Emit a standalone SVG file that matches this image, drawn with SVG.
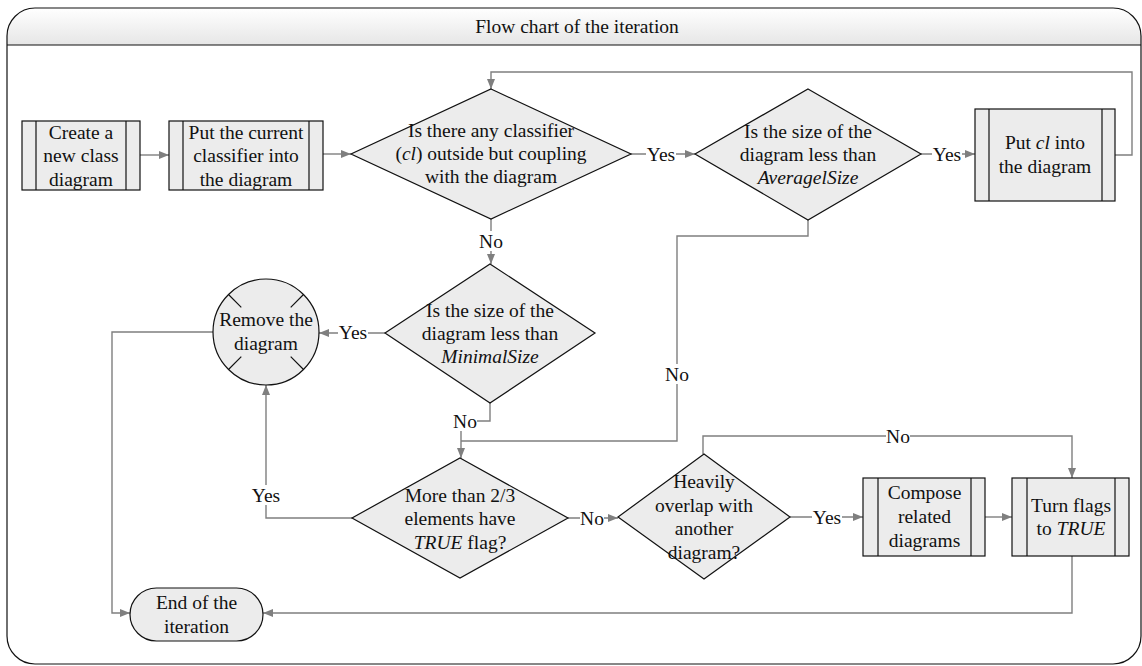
<svg xmlns="http://www.w3.org/2000/svg" width="1142" height="666" viewBox="0 0 1142 666">
<defs>
<linearGradient id="hdr" x1="0" y1="0" x2="0" y2="1">
<stop offset="0" stop-color="#ffffff"/>
<stop offset="1" stop-color="#e6e6e6"/>
</linearGradient>
<clipPath id="frameclip"><rect x="7" y="8" width="1134" height="656" rx="28" ry="28"/></clipPath>
<marker id="arr" markerUnits="userSpaceOnUse" markerWidth="10" markerHeight="8" refX="10" refY="4" orient="auto">
<path d="M0,0 L10,4 L0,8 z" fill="#7f7f7f"/>
</marker>
</defs>
<style>
text{font-family:"Liberation Serif","Times New Roman",serif;font-size:19.5px;fill:#111;text-anchor:middle}
.shape{fill:#ececec;stroke:#111;stroke-width:1.2}
.bar{stroke:#111;stroke-width:1.2}
.conn path{fill:none;stroke:#7f7f7f;stroke-width:1.4}
.arrow{marker-end:url(#arr)}
.lblbg{fill:#ffffff}
</style>
<rect x="0" y="0" width="1142" height="666" fill="#ffffff"/>
<g id="frame">
<rect x="7" y="8" width="1134" height="37" fill="url(#hdr)" clip-path="url(#frameclip)"/>
<rect x="7" y="8" width="1134" height="656" rx="28" ry="28" fill="none" stroke="#111" stroke-width="1.2"/>
<line x1="7" y1="45" x2="1141" y2="45" stroke="#111" stroke-width="1.2"/>
<text x="577" y="33">Flow chart of the iteration</text>
</g>
<g id="connectors" class="conn">
<path class="arrow" d="M140,155 H169"/>
<path class="arrow" d="M323,154 H351"/>
<path class="arrow" d="M630,154 H695"/>
<path class="arrow" d="M921,154 H975"/>
<path class="arrow" d="M1115,155 H1132 V72 H491 V89"/>
<path class="arrow" d="M491,218 V264"/>
<path d="M808,220 V236 H677 V441 H461"/>
<path class="arrow" d="M490,403 V421 H461 V458"/>
<path class="arrow" d="M385,333 H319"/>
<path class="arrow" d="M213,332 H112 V613 H130"/>
<path class="arrow" d="M352,518 H266 V385"/>
<path class="arrow" d="M568,518 H618"/>
<path class="arrow" d="M703,454 V436 H1072 V478"/>
<path class="arrow" d="M790,517 H863"/>
<path class="arrow" d="M985,517 H1012"/>
<path class="arrow" d="M1072,556 V613 H263"/>
<g id="labels">
<rect class="lblbg" x="646" y="144" width="30" height="20"/><text x="661" y="161">Yes</text>
<rect class="lblbg" x="932" y="144" width="30" height="20"/><text x="947" y="161">Yes</text>
<rect class="lblbg" x="479" y="231" width="24" height="20"/><text x="491" y="248">No</text>
<rect class="lblbg" x="665" y="364" width="24" height="20"/><text x="677" y="381">No</text>
<rect class="lblbg" x="453" y="411" width="24" height="20"/><text x="465" y="428">No</text>
<rect class="lblbg" x="338" y="322" width="30" height="20"/><text x="353" y="339">Yes</text>
<rect class="lblbg" x="251" y="485" width="30" height="20"/><text x="266" y="502">Yes</text>
<rect class="lblbg" x="580" y="508" width="24" height="20"/><text x="592" y="525">No</text>
<rect class="lblbg" x="886" y="426" width="24" height="20"/><text x="898" y="443">No</text>
<rect class="lblbg" x="812" y="507" width="30" height="20"/><text x="827" y="524">Yes</text>
</g>
</g>
<g id="n1">
<rect class="shape" x="22" y="121" width="118" height="69"/>
<line class="bar" x1="36" y1="121" x2="36" y2="190"/><line class="bar" x1="126" y1="121" x2="126" y2="190"/>
<text x="81" y="139">Create a</text><text x="81" y="162">new class</text><text x="81" y="186">diagram</text>
</g>
<g id="n2">
<rect class="shape" x="169" y="121" width="154" height="69"/>
<line class="bar" x1="183" y1="121" x2="183" y2="190"/><line class="bar" x1="309" y1="121" x2="309" y2="190"/>
<text x="246" y="139">Put the current</text><text x="246" y="162">classifier into</text><text x="246" y="186">the diagram</text>
</g>
<g id="d1">
<polygon class="shape" points="491,89 631,154 491,219 351,154"/>
<text x="491" y="137">Is there any classifier</text>
<text x="491" y="160">(<tspan font-style="italic">cl</tspan>) outside but coupling</text>
<text x="491" y="183">with the diagram</text>
</g>
<g id="d2">
<polygon class="shape" points="808,89 921,154 808,220 695,154"/>
<text x="808" y="138">Is the size of the</text>
<text x="808" y="161">diagram less than</text>
<text x="808" y="184" font-style="italic">AveragelSize</text>
</g>
<g id="n3">
<rect class="shape" x="975" y="109" width="140" height="92"/>
<line class="bar" x1="989" y1="109" x2="989" y2="201"/><line class="bar" x1="1102" y1="109" x2="1102" y2="201"/>
<text x="1045" y="149">Put <tspan font-style="italic">cl</tspan> into</text>
<text x="1045" y="173">the diagram</text>
</g>
<g id="d3">
<polygon class="shape" points="490,264 595,333 490,403 385,333"/>
<text x="490" y="317">Is the size of the</text>
<text x="490" y="340">diagram less than</text>
<text x="490" y="363" font-style="italic">MinimalSize</text>
</g>
<g id="remove">
<circle class="shape" cx="266" cy="332" r="53"/>
<path class="bar" d="M228.5,294.5 L241.3,307.3 M303.5,294.5 L290.7,307.3 M228.5,369.5 L241.3,356.7 M303.5,369.5 L290.7,356.7"/>
<text x="266" y="326">Remove the</text>
<text x="266" y="350">diagram</text>
</g>
<g id="d4">
<polygon class="shape" points="460,458 568,518 460,578 352,518"/>
<text x="460" y="502">More than 2/3</text>
<text x="460" y="525">elements have</text>
<text x="460" y="549"><tspan font-style="italic">TRUE</tspan> flag?</text>
</g>
<g id="d5">
<polygon class="shape" points="704,454 790,517 704,579 618,517"/>
<text x="704" y="488">Heavily</text>
<text x="704" y="512">overlap with</text>
<text x="704" y="535">another</text>
<text x="704" y="559">diagram?</text>
</g>
<g id="n4">
<rect class="shape" x="863" y="478" width="122" height="78"/>
<line class="bar" x1="878" y1="478" x2="878" y2="556"/><line class="bar" x1="971" y1="478" x2="971" y2="556"/>
<text x="924.5" y="499">Compose</text><text x="924.5" y="523">related</text><text x="924.5" y="547">diagrams</text>
</g>
<g id="n5">
<rect class="shape" x="1012" y="478" width="117" height="78"/>
<line class="bar" x1="1027" y1="478" x2="1027" y2="556"/><line class="bar" x1="1115" y1="478" x2="1115" y2="556"/>
<text x="1071" y="512">Turn flags</text>
<text x="1071" y="535">to <tspan font-style="italic">TRUE</tspan></text>
</g>
<g id="end">
<rect class="shape" x="130" y="588" width="133" height="53" rx="26.5" ry="26.5"/>
<text x="196.5" y="609">End of the</text>
<text x="196.5" y="633">iteration</text>
</g>
</svg>
